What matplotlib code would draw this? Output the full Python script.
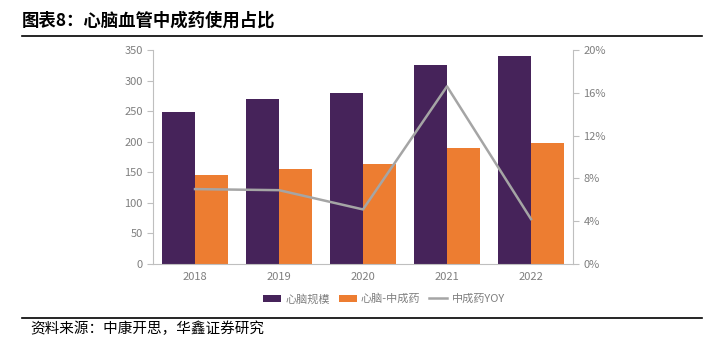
import matplotlib
matplotlib.use('Agg')
import matplotlib.pyplot as plt
from matplotlib.ticker import FuncFormatter
import numpy as np

plt.rcParams['font.family'] = ['Noto Sans CJK SC', 'DejaVu Sans']

years = ['2018', '2019', '2020', '2021', '2022']
scale = [248, 270, 280, 325, 340]       # 心脑规模
tcm = [145, 155, 163, 190, 198]         # 心脑-中成药
yoy = [7.0, 6.9, 5.1, 16.6, 4.2]        # 中成药YOY (%)

purple = '#46235A'
orange = '#ED7D31'
grey = '#A5A5A5'
axis_col = '#BFBFBF'
text_col = '#7F7F7F'

fig = plt.figure(figsize=(7.06, 3.45), dpi=100)
ax = fig.add_axes([153 / 706, 1 - 264 / 345, 420 / 706, 214 / 345])
x = np.arange(len(years))
w = 0.39
ax.bar(x - w / 2, scale, w, color=purple, label='心脑规模')
ax.bar(x + w / 2, tcm, w, color=orange, label='心脑-中成药')
ax.set_xlim(-0.5, 4.5)
ax.set_ylim(0, 350)
ax.set_yticks(range(0, 351, 50))
ax.set_xticks(x)
ax.set_xticklabels(years)

ax2 = ax.twinx()
ax2.plot(x, yoy, color=grey, lw=1.8, label='中成药YOY')
ax2.set_ylim(0, 20)
ax2.set_yticks(range(0, 21, 4))
ax2.yaxis.set_major_formatter(FuncFormatter(lambda v, p: f'{v:.0f}%'))

for a in (ax, ax2):
    for s in a.spines.values():
        s.set_visible(False)
    a.tick_params(colors=axis_col, labelcolor=text_col, labelsize=8, length=4)
ax.spines['left'].set_visible(True)
ax.spines['left'].set_color(axis_col)
ax.spines['bottom'].set_visible(True)
ax.spines['bottom'].set_color(axis_col)
ax2.spines['right'].set_visible(True)
ax2.spines['right'].set_color(axis_col)
ax.tick_params(axis='x', length=0, pad=6)

h1, l1 = ax.get_legend_handles_labels()
h2, l2 = ax2.get_legend_handles_labels()
fig.legend(h1 + h2, l1 + l2, loc='center', bbox_to_anchor=(384 / 706, 1 - 299 / 345),
           ncol=3, frameon=False, fontsize=8, handlelength=1.6, handleheight=0.7,
           columnspacing=0.8, handletextpad=0.4, labelcolor=text_col)

fig.text(22 / 706, 1 - 21 / 345, '图表8：心脑血管中成药使用占比', fontsize=12.5,
         fontweight='bold', va='center', ha='left')
fig.add_artist(plt.Line2D([22 / 706, 702 / 706], [1 - 36 / 345] * 2, color='black', lw=1.2))
fig.add_artist(plt.Line2D([22 / 706, 702 / 706], [1 - 318 / 345] * 2, color='black', lw=1.2))
fig.text(30 / 706, 1 - 329 / 345, '资料来源：中康开思，华鑫证券研究', fontsize=10.5,
         va='center', ha='left')

fig.savefig('out.png', dpi=100)
